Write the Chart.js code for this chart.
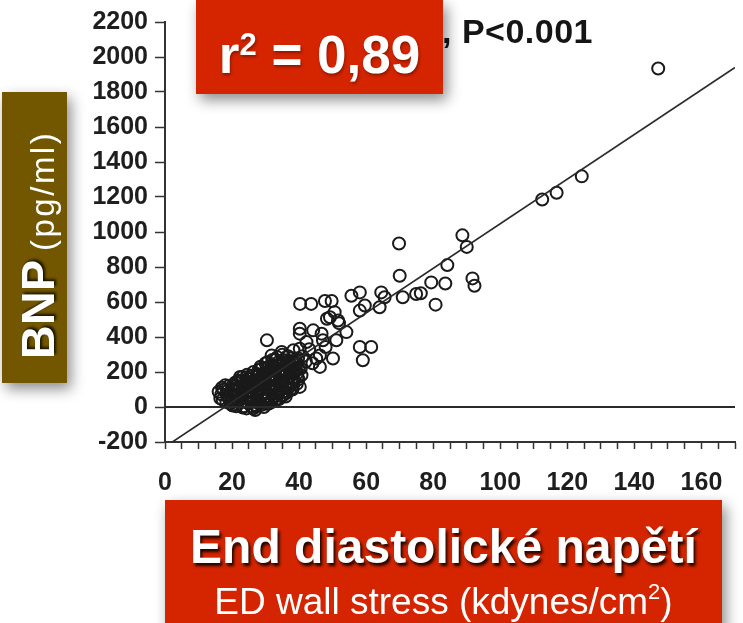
<!DOCTYPE html>
<html>
<head>
<meta charset="utf-8">
<script src="https://cdn.jsdelivr.net/npm/chart.js@4.4.0/dist/chart.umd.min.js"></script>
<style>
html, body { margin: 0; padding: 0; background: #fff; }
#wrap { position: relative; width: 743px; height: 623px; overflow: hidden; font-family: "Liberation Sans", Arial, sans-serif; }
#chart { position: absolute; left: 0; top: 0; }
.box { position: absolute; color: #fff; box-shadow: 4px 6px 13px rgba(0,0,0,0.45); }
#pval { position: absolute; left: 442px; top: 15px; font-size: 34px; line-height: 33px; font-weight: bold; color: #151515; white-space: nowrap; letter-spacing: 0.5px; }
#r2 { left: 196px; top: 0; width: 247px; height: 94px; background: #d42400; text-align: center;
      font-size: 53px; font-weight: bold; line-height: 90px; text-shadow: 1px 2px 3px rgba(0,0,0,0.35); }
#r2 .sup { font-size: 31px; vertical-align: 18px; }
#bnp { left: 2px; top: 92px; width: 65px; height: 291px; background: #735700; }
#bnp .rot { position: absolute; left: -113px; top: 113px; width: 291px; height: 65px; transform: rotate(-90deg);
            text-align: center; line-height: 71px; white-space: nowrap; padding-right: 15px; box-sizing: border-box; }
#bnp b { font-size: 47px; text-shadow: 2px 2px 3px rgba(0,0,0,0.8); }
#bnp span { font-size: 33px; letter-spacing: 2.5px; margin-left: 9px; }
#xbox { left: 165px; top: 500px; width: 557px; height: 140px; background: #d42400; text-align: center; }
#xbox .t1 { margin-top: 23px; font-size: 48px; line-height: 48px; font-weight: bold; text-shadow: 2px 3px 3px rgba(0,0,0,0.85); }
#xbox .t2 { margin-top: 2px; font-size: 37px; line-height: 37px; }
#xbox .t2 .sup { font-size: 22px; vertical-align: 15px; }
</style>
</head>
<body>
<div id="wrap">
  <canvas id="chart" width="743" height="623"></canvas>
  <div id="pval">, P&lt;0.001</div>
  <div class="box" id="r2">r<span class="sup">2</span> = 0,89</div>
  <div class="box" id="bnp"><div class="rot"><b>BNP</b><span>(pg/ml)</span></div></div>
  <div class="box" id="xbox">
    <div class="t1">End diastolické napětí</div>
    <div class="t2">ED wall stress (kdynes/cm<span class="sup">2</span>)</div>
  </div>
</div>
<script>
// ED wall stress (kdynes/cm2) vs BNP (pg/ml)
// dense group (overlapping circles)
var clusterX = [
  16.0, 16.5, 17.0, 18.0, 18.5, 19.0, 19.5, 20.0, 20.5, 21.0, 21.0, 22.0, 22.0, 22.4, 23.0, 23.0,
  23.5, 24.0, 24.0, 24.0, 24.5, 25.0, 25.0, 25.5, 26.0, 26.0, 26.4, 26.4, 26.9, 27.0, 27.0, 27.5,
  28.0, 28.0, 28.0, 28.5, 29.0, 29.0, 29.0, 29.5, 30.0, 30.0, 30.0, 30.0, 30.4, 30.5, 31.0, 31.0,
  31.0, 31.8, 31.8, 32.0, 32.0, 32.3, 32.5, 33.0, 33.0, 33.0, 33.5, 34.0, 34.0, 34.0, 34.8, 35.0,
  35.0, 35.3, 35.5, 36.0, 36.0, 36.0, 36.5, 37.0, 37.0, 37.3, 37.5, 38.0, 38.0, 38.3, 38.5, 39.0,
  39.0, 39.3, 39.5, 40.2, 40.2, 40.7, 40.5, 41.0, 42.0,
  17.2, 16.8, 17.4, 18.3, 18.8, 18.4, 18.9, 20.2, 19.8, 20.3, 19.9, 20.4,
  21.3, 21.8, 21.4, 21.7, 21.2, 21.9, 23.2, 22.8, 23.3, 22.9, 23.4, 22.7, 23.1,
  24.3, 24.8, 24.4, 24.9, 24.2, 24.7, 24.4, 25.8, 26.3, 25.9, 26.2, 25.7, 26.4, 26.0,
  27.3, 27.8, 27.4, 27.9, 27.2, 27.7, 27.4, 27.9, 28.8, 29.3, 29.1, 28.7, 29.4, 28.9, 29.2, 28.8,
  30.3, 30.8, 30.4, 30.9, 30.2, 30.7, 30.4, 30.9, 30.6, 31.8, 32.3, 31.9, 32.4, 31.7, 32.2, 31.8, 32.3, 32.0,
  33.3, 33.8, 33.4, 33.9, 33.2, 33.7, 33.3, 33.8, 33.5, 34.8, 35.3, 34.9, 35.2, 34.7, 35.4, 34.9, 35.2, 35.0,
  36.3, 36.8, 36.4, 36.9, 36.2, 36.7, 36.4, 36.8, 37.8, 38.3, 37.9, 38.4, 37.7, 38.2, 37.9,
  39.3, 39.8, 39.4, 39.9, 39.2, 39.7
];
var clusterY = [
  87, 49, 110, 125, 70, 50, 20, 11, 95, 140, 70, 40, 110, 172, 60, 150,
  5, 130, 30, 80, 185, 90, 160, 30, 50, 120, 200, -7, -17, 150, 10, 60,
  110, 20, 180, 230, 170, 80, 130, 0, 130, 250, 60, 190, 381, 40, 200, 100,
  20, 295, 40, 160, 100, 59, 230, 120, 270, 180, 80, 190, 45, 140, 314, 150,
  210, 68, 250, 110, 210, 60, 290, 170, 260, 97, 240, 140, 100, 324, 200, 270,
  210, 248, 170, 115, 333, 182, 220, 290, 260,
  42, 72, 98, 28, 58, 88, 118, 8, 38, 66, 102, 128,
  4, 33, 63, 92, 122, 152, -3, 28, 57, 88, 118, 146, 172,
  -8, 22, 52, 84, 112, 142, 170, 2, 32, 62, 88, 118, 148, 178,
  4, 36, 66, 94, 124, 156, 186, 212, 12, 38, 72, 102, 128, 158, 192, 218,
  18, 52, 78, 112, 138, 168, 202, 228, 256, 28, 62, 88, 118, 152, 178, 212, 238, 268,
  46, 74, 106, 132, 166, 196, 222, 256, 284, 62, 88, 122, 148, 182, 208, 242, 268, 298,
  82, 112, 138, 172, 198, 232, 258, 288, 104, 128, 162, 188, 222, 252, 278,
  132, 158, 192, 218, 252, 278
];
// spread-out points above the dense group
var spreadX = [
  40.3, 43.6, 47.7, 49.7, 55.6, 58.1, 64.5, 65.5, 70.0, 70.9, 49.2, 50.6, 51.6, 58.1, 59.6, 64.0,
  40.2, 40.2, 44.2, 46.7, 51.1, 54.1, 58.1, 61.5, 59.0, 50.1, 46.2, 46.2, 42.2, 47.1, 47.9, 45.1,
  48.3, 51.9, 43.0, 44.0,
  69.8, 74.9, 76.3, 79.4, 80.7, 83.6, 84.2, 88.7, 90.0, 91.7, 92.3, 112.5, 116.8, 124.3, 147.1
];
var spreadY = [
  589, 589, 606, 606, 636, 655, 655, 627, 750, 627, 513, 542, 494, 551, 580, 570,
  447, 419, 438, 419, 381, 428, 343, 343, 267, 277, 295, 229, 371, 381, 343, 277,
  504, 479, 330, 250,
  934, 646, 650, 712, 585, 706, 811, 981, 915, 735, 693, 1186, 1224, 1318, 1934
];

// regression line and zero reference line
var fitX = [2.2, 170];
var fitY = [-200, 1940];
var zeroX = [0, 170];
var zeroY = [0, 0];

var xTickLabels = [0, 20, 40, 60, 80, 100, 120, 140, 160];
var yMin = -200, yMax = 2200, yStep = 200;

function toPoints(xs, ys) {
  var out = [];
  for (var i = 0; i < xs.length; i++) out.push({x: xs[i], y: ys[i]});
  return out;
}

var tickFont = {family: '"Liberation Sans", Arial, sans-serif', size: 25, weight: 'bold'};
var circleStyle = {
  pointRadius: 6, pointHoverRadius: 6,
  pointBorderWidth: 2, pointBorderColor: '#1a1a1a',
  pointBackgroundColor: 'rgba(0,0,0,0)'
};

new Chart(document.getElementById('chart'), {
  type: 'scatter',
  data: {
    datasets: [
      {
        data: toPoints(zeroX, zeroY),
        showLine: true, borderColor: '#2a2a2a', borderWidth: 2, pointRadius: 0, fill: false
      },
      {
        data: toPoints(fitX, fitY),
        showLine: true, borderColor: '#2a2a2a', borderWidth: 1.6, pointRadius: 0, fill: false
      },
      Object.assign({data: toPoints(clusterX, clusterY)}, circleStyle),
      Object.assign({data: toPoints(spreadX, spreadY)}, circleStyle)
    ]
  },
  options: {
    responsive: false,
    animation: false,
    devicePixelRatio: 1,
    layout: {padding: {top: 20, right: 6, left: 0, bottom: 0}},
    plugins: {legend: {display: false}, tooltip: {enabled: false}},
    scales: {
      x: {
        type: 'linear', min: 0, max: 170,
        afterFit: function(s) { s.height = 181; s.paddingLeft = 0; s.paddingRight = 0; },
        border: {color: '#333', width: 2},
        grid: {drawOnChartArea: false, tickLength: 7, tickColor: '#333', tickWidth: 1.5},
        ticks: {
          stepSize: 5, autoSkip: false, maxRotation: 0, padding: 19,
          color: '#1e1e1e', font: tickFont,
          callback: function(v) { return xTickLabels.indexOf(v) >= 0 ? String(v) : ''; }
        }
      },
      y: {
        type: 'linear', min: yMin, max: yMax,
        afterFit: function(s) { s.width = 165; },
        border: {color: '#333', width: 2},
        grid: {drawOnChartArea: false, tickLength: 10, tickColor: '#333', tickWidth: 1.5},
        ticks: {
          stepSize: yStep, padding: 7, color: '#1e1e1e', font: tickFont,
          callback: function(v) { return String(v); }
        }
      }
    }
  }
});
</script>
</body>
</html>
